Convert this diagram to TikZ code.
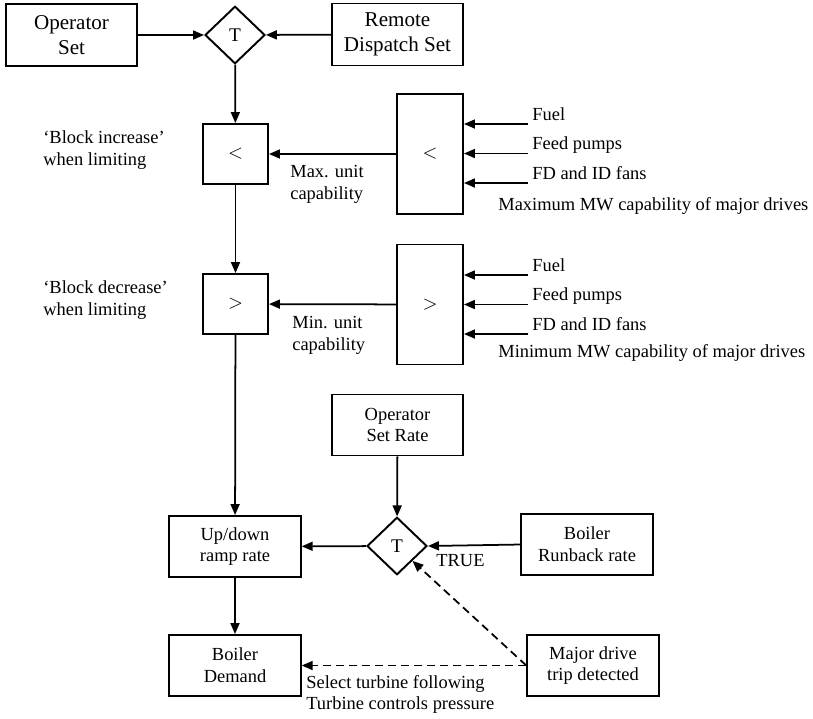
\documentclass[tikz,border=0pt]{standalone}
\usepackage{fontspec}
\setmainfont{Liberation Serif}
\usetikzlibrary{shapes.geometric,arrows.meta}

\tikzset{
  blk/.style={draw, line width=1.1pt, align=center, inner sep=0pt,
    minimum width=2.63cm, minimum height=1.22cm,
    font=\fontsize{10.5}{12.4}\selectfont},
  topblk/.style={blk, minimum height=1.24cm, font=\fontsize{12}{14.2}\selectfont},
  selblk/.style={blk, minimum width=1.3cm, minimum height=1.2cm},
  drvblk/.style={blk, minimum width=1.32cm, minimum height=2.4cm},
  tsel/.style={draw, diamond, line width=1.1pt, inner sep=0pt, aspect=1,
    minimum width=1.2cm, minimum height=1.15cm, font=\fontsize{11}{13}\selectfont},
  lbl/.style={inner sep=0pt, align=left, font=\fontsize{10.5}{12.4}\selectfont},
  arr/.style={line width=1pt, -{Triangle[length=2.2mm,width=1.8mm]}},
  darr/.style={arr, dash pattern=on 1.6mm off 1mm}
}

\begin{document}
\begin{tikzpicture}[x=0.02cm, y=-0.02cm]
  \useasboundingbox (0,0) rectangle (813,718);

  % set point selection
  \node[topblk] (opset) at (71.5,35) {Operator\\Set};
  \node[tsel] (tset) at (235,35) {T};
  \node[topblk] (remote) at (397.5,34.5) {Remote\\Dispatch Set};
  \draw[arr] (opset) -- (tset);
  \draw[arr] (remote) -- (tset);

  % capability limits
  \node[selblk] (minof) at (235.5,154) {$<$};
  \node[drvblk] (maxcap) at (430,154) {$<$};
  \node[selblk] (maxof) at (235.5,304) {$>$};
  \node[drvblk] (mincap) at (430,304.5) {$>$};
  \draw[arr] (tset) -- (minof);
  \draw[arr] (maxcap) -- (minof);
  \draw[arr] (minof) -- (maxof);
  \draw[arr] (mincap) -- (maxof);

  \node[lbl, anchor=west] (blkinc) at (43,150) {`Block increase'\\when limiting};
  \node[lbl, anchor=west] (blkdec) at (43,300) {`Block decrease'\\when limiting};
  \node[lbl, anchor=west] (maxunit) at (290,184) {Max. unit\\capability};
  \node[lbl, anchor=west] (minunit) at (292,335) {Min. unit\\capability};

  % drive inputs, maximum
  \coordinate (hi1) at (528,124);
  \coordinate (hi2) at (528,153.5);
  \coordinate (hi3) at (528,183);
  \draw[arr] (hi1) -- (maxcap.east |- hi1);
  \draw[arr] (hi2) -- (maxcap.east |- hi2);
  \draw[arr] (hi3) -- (maxcap.east |- hi3);
  \node[lbl, anchor=base west] (hifuel) at (532,120) {Fuel};
  \node[lbl, anchor=base west] (hifeed) at (532,149.5) {Feed pumps};
  \node[lbl, anchor=base west] (hifans) at (532,179) {FD and ID fans};
  \node[lbl, anchor=west] (hinote) at (498,206) {Maximum MW capability of major drives};

  % drive inputs, minimum
  \coordinate (lo1) at (528,275);
  \coordinate (lo2) at (528,304.5);
  \coordinate (lo3) at (528,334);
  \draw[arr] (lo1) -- (mincap.east |- lo1);
  \draw[arr] (lo2) -- (mincap.east |- lo2);
  \draw[arr] (lo3) -- (mincap.east |- lo3);
  \node[lbl, anchor=base west] (lofuel) at (532,271) {Fuel};
  \node[lbl, anchor=base west] (lofeed) at (532,300.5) {Feed pumps};
  \node[lbl, anchor=base west] (lofans) at (532,330) {FD and ID fans};
  \node[lbl, anchor=west] (lonote) at (498,353) {Minimum MW capability of major drives};

  % rate selection and demand
  \node[blk] (oprate) at (397.5,425) {Operator\\Set Rate};
  \node[tsel] (trate) at (397,546) {T};
  \node[blk] (runback) at (587,544.5) {Boiler\\Runback rate};
  \node[blk] (ramp) at (235,546.5) {Up/down\\ramp rate};
  \node[blk] (demand) at (235,665.5) {Boiler\\Demand};
  \node[blk] (trip) at (593,665.5) {Major drive\\trip detected};
  \draw[arr] (maxof) -- (ramp);
  \draw[arr] (oprate) -- (trate);
  \draw[arr] (runback.west) -- (trate.east);
  \draw[arr] (trate) -- (ramp);
  \draw[arr] (ramp) -- (demand);
  \draw[darr] (trip.west) -- (trate.south east);
  \draw[darr] (trip.west) -- (demand.east);

  \node[lbl, anchor=west] (truelbl) at (436,561) {TRUE};
  \node[lbl, anchor=west] (follow) at (306,694.5) {Select turbine following\\Turbine controls pressure};
\end{tikzpicture}
\end{document}
